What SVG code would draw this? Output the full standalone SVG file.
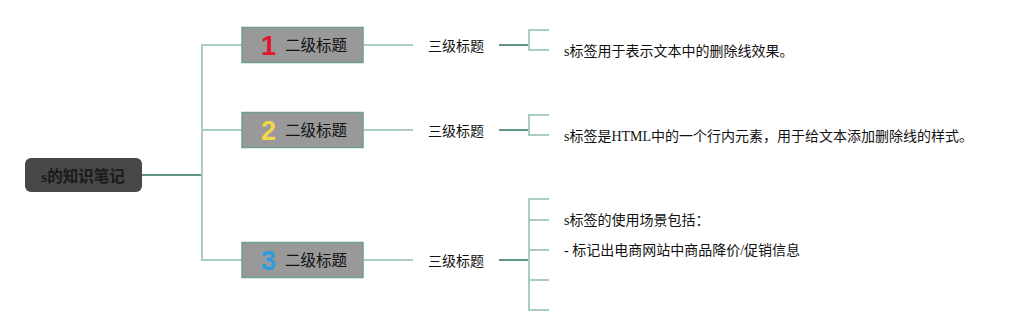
<svg xmlns="http://www.w3.org/2000/svg" width="1034" height="335" viewBox="0 0 1034 335">
<style>
.dark{stroke:#5f9683;stroke-width:2;fill:none}
.light{stroke:#a9cdc0;stroke-width:2;fill:none}
.l2box{fill:#999999;stroke:#6f9e8c;stroke-width:1.5}
.l2t{font-family:"Noto Sans CJK SC","Noto Sans",sans-serif;font-size:15.5px;fill:#111}
.num{font-family:"Liberation Sans","DejaVu Sans",sans-serif;font-size:27px;font-weight:bold}
.l3t{font-family:"Noto Sans CJK SC","Noto Sans",sans-serif;font-size:14px;fill:#111}
.l4t{font-family:"Liberation Serif","Noto Sans CJK SC",serif;font-size:14px;fill:#111}
</style>
<rect width="1034" height="335" fill="#ffffff"/>
<g id="connectors">
<path class="dark" d="M141 175H202"/>
<path class="light" d="M242 45H202V260H242"/>
<path class="light" d="M202 130H242"/>
<path class="light" d="M363 45H413M363 130H413M363 260H413"/>
<path class="dark" d="M499 45H529M499 130H529M499 260H529"/>
<path class="light" d="M549 30H529V50H549"/>
<path class="light" d="M549 115H529V135H549"/>
<path class="light" d="M549 199H529V310H549M529 220H549M529 250H549M529 280H549"/>
</g>
<g id="root">
<rect x="25" y="158" width="117" height="34" rx="6" fill="#474747"/>
<text x="83" y="181.5" text-anchor="middle" font-family="Liberation Serif,Noto Sans CJK SC,sans-serif" font-size="15.5" font-weight="bold" fill="#1a1a1a">s的知识笔记</text>
</g>
<g id="l2-1">
<rect class="l2box" x="242" y="27.5" width="121" height="35"/>
<text class="num" x="268.5" y="55" text-anchor="middle" fill="#e0182d">1</text>
<text class="l2t" x="285" y="51">二级标题</text>
</g>
<g id="l2-2">
<rect class="l2box" x="242" y="112.5" width="121" height="35"/>
<text class="num" x="268.5" y="140" text-anchor="middle" fill="#f2d64b">2</text>
<text class="l2t" x="285" y="136">二级标题</text>
</g>
<g id="l2-3">
<rect class="l2box" x="242" y="242.5" width="121" height="35"/>
<text class="num" x="268.5" y="270" text-anchor="middle" fill="#2a9de0">3</text>
<text class="l2t" x="285" y="266">二级标题</text>
</g>
<g id="l3-1"><text class="l3t" x="456" y="51" text-anchor="middle">三级标题</text></g>
<g id="l3-2"><text class="l3t" x="456" y="136" text-anchor="middle">三级标题</text></g>
<g id="l3-3"><text class="l3t" x="456" y="266" text-anchor="middle">三级标题</text></g>
<g id="l4-1"><text class="l4t" x="564" y="56">s标签用于表示文本中的删除线效果。</text></g>
<g id="l4-2"><text class="l4t" x="564" y="141">s标签是HTML中的一个行内元素，用于给文本添加删除线的样式。</text></g>
<g id="l4-3"><text class="l4t" x="564" y="225">s标签的使用场景包括：</text></g>
<g id="l4-4"><text class="l4t" x="564" y="255">- 标记出电商网站中商品降价/促销信息</text></g>
</svg>
